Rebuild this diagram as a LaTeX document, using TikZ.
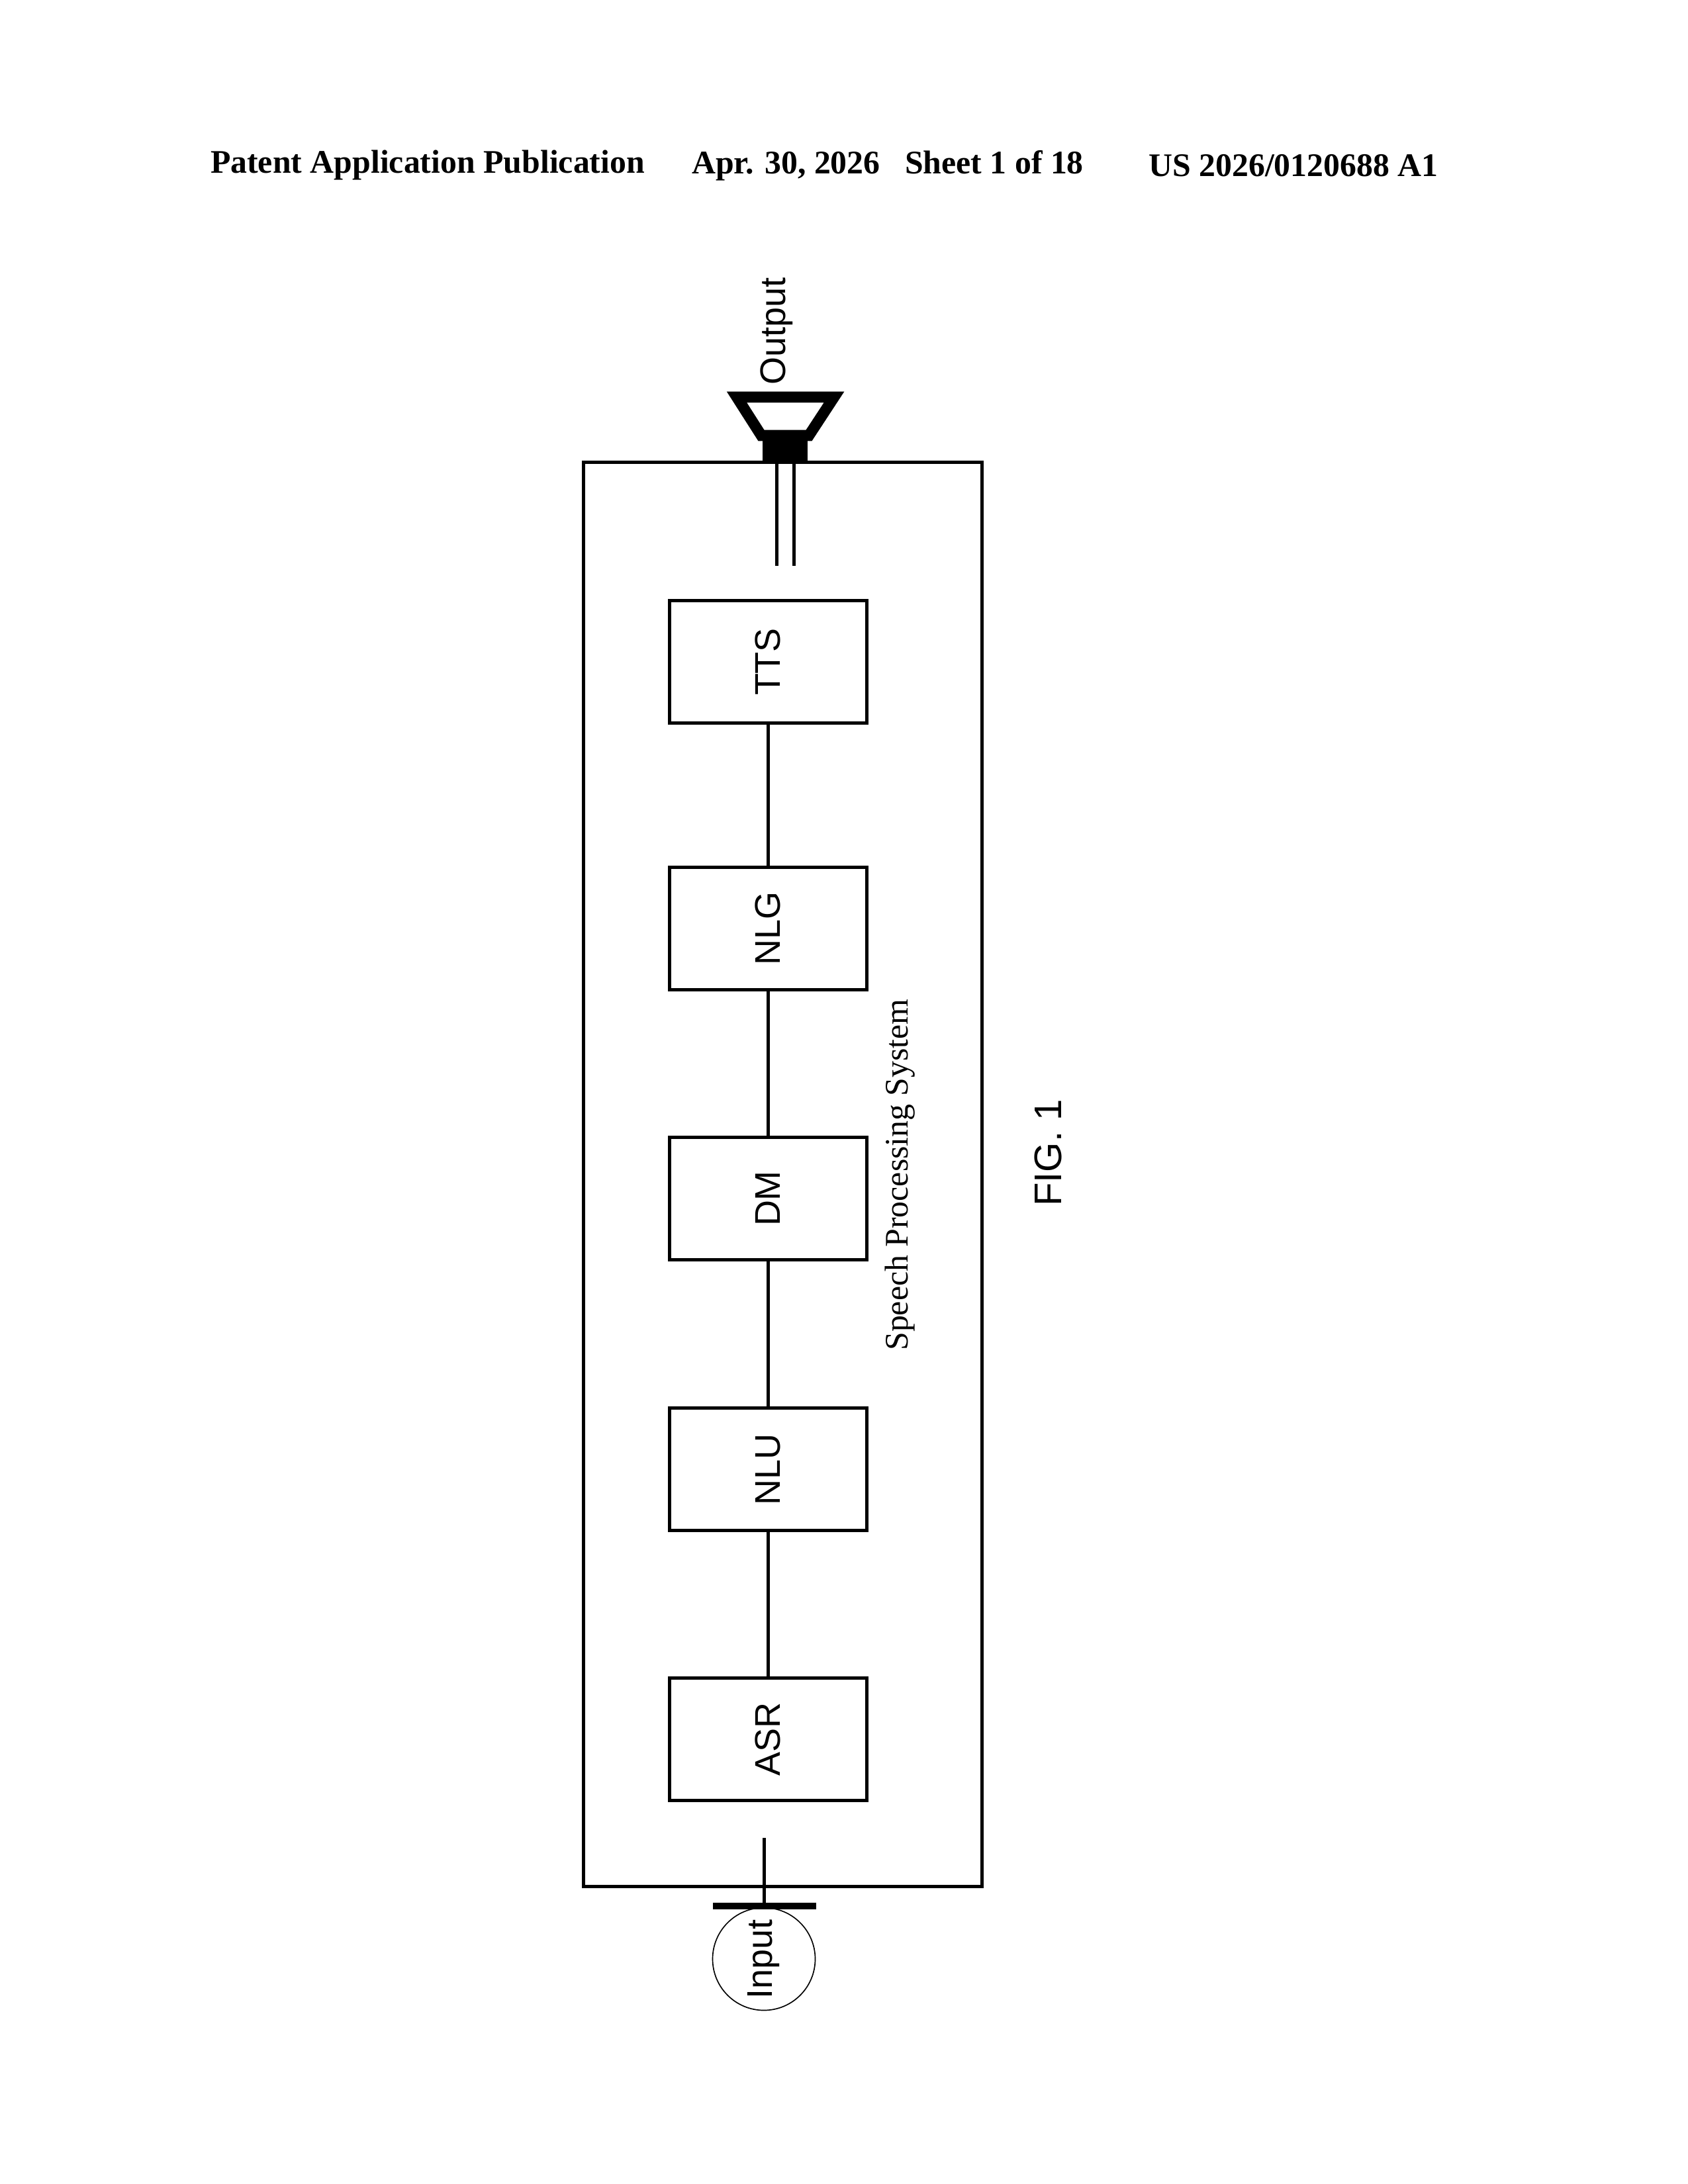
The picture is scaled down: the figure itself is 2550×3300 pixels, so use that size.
\documentclass[tikz,border=0pt]{standalone}
\usepackage{fontspec}
\setmainfont{Liberation Serif}
\newfontfamily\arialfont{Liberation Sans}
\usetikzlibrary{positioning}
\tikzset{
    module/.style={draw, line width=1.2pt, minimum width=185\px, minimum height=298\px, inner sep=0pt, font=\arialfont\fontsize{13}{15}\selectfont, rotate=90},
    wire/.style={line width=1.2pt}
}
\newlength{\px}
\setlength{\px}{0.0846667mm}
\begin{document}
\begin{tikzpicture}[x=0.0846667mm, y=-0.0846667mm]
    \useasboundingbox (0,0) rectangle (2550,3300);
    % header
    \node[font=\bfseries\fontsize{12}{14}\selectfont] (hdrA) at (646,250) {Patent Application Publication};
    \node[font=\bfseries\fontsize{12}{14}\selectfont] (hdrB) at (1341,250) {Apr. 30, 2026\hspace{0.5em} Sheet 1 of 18};
    \node[font=\bfseries\fontsize{12}{14}\selectfont] (hdrC) at (1954,250) {US 2026/0120688 A1};
    % system frame
    \draw[wire] (881,698) rectangle (1483,2850);
    \node[rotate=90, font=\fontsize{12}{14}\selectfont] (sys) at (1360,1775) {Speech Processing System};
    % modules
    \node[module] (tts) at (1160,1000) {TTS};
    \node[module] (nlg) at (1160,1403) {NLG};
    \node[module] (dm)  at (1160,1811) {DM};
    \node[module] (nlu) at (1160,2220) {NLU};
    \node[module] (asr) at (1160,2628) {ASR};
    \draw[wire] (tts) -- (nlg);
    \draw[wire] (nlg) -- (dm);
    \draw[wire] (dm) -- (nlu);
    \draw[wire] (nlu) -- (asr);
    % input
    \node[draw, circle, minimum size=155\px, inner sep=0pt, font=\arialfont\fontsize{13}{15}\selectfont] (inp) at (1154,2960) {\rotatebox{90}{Input}};
    \coordinate (asrIn) at (1154,2777);
    \draw[wire] (asrIn) -- (inp.north);
    \draw[line width=2.5pt] (1077,2880) -- (1233,2880);
    % output speaker
    \coordinate (wireA) at (1173,855);
    \coordinate (wireB) at (1199,855);
    \draw[wire] (wireA) -- (1173,700);
    \draw[wire] (wireB) -- (1199,700);
    \fill (1152,658) rectangle (1220,700);
    \draw[line width=4pt, line join=miter] (1113,600) -- (1260,600) -- (1222,658) -- (1150,658) -- cycle;
    \node[rotate=90, font=\arialfont\fontsize{13}{15}\selectfont] (out) at (1173,500) {Output};
    % caption
    \node[rotate=90, font=\arialfont\fontsize{14}{16}\selectfont] (fig) at (1583,1742) {FIG. 1};
\end{tikzpicture}
\end{document}
